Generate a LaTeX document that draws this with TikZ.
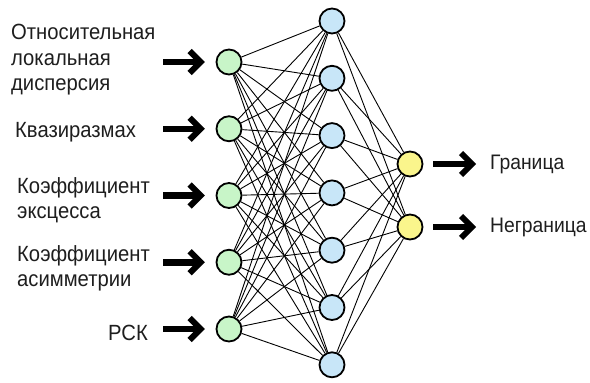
\documentclass[tikz,border=0pt]{standalone}
\usepackage{fontspec}
\setmainfont[FakeStretch=0.92]{Liberation Sans}
\definecolor{ingreen}{RGB}{200,245,200}
\definecolor{hidblue}{RGB}{200,230,248}
\definecolor{outyellow}{RGB}{250,245,140}
\definecolor{txt}{RGB}{30,30,30}
\begin{document}
\begin{tikzpicture}[x=1pt,y=-1pt,
  neuron/.style={circle,draw=black,line width=1.8pt,minimum size=25pt,inner sep=0pt},
  inn/.style={neuron,fill=ingreen},
  hid/.style={neuron,fill=hidblue},
  outn/.style={neuron,fill=outyellow},
  link/.style={line width=0.9pt},
  shaft/.style={line width=6.5pt},
  chevron/.style={line width=6pt,miter limit=10,line join=miter},
  lab/.style={font=\fontsize{22}{25.5}\selectfont,text=txt,inner sep=0pt,align=left},
  rlab/.style={lab,font=\fontsize{21}{25}\selectfont}]
\useasboundingbox (0,0) rectangle (590,383);
% input neurons
\foreach \i/\y in {1/62,2/128.75,3/195.5,4/262.25,5/329}
  \node[inn] (i\i) at (229,\y) {};
% hidden neurons
\foreach \j in {1,...,7}
  \node[hid] (h\j) at (332,{21+57.3*(\j-1)}) {};
% output neurons
\node[outn] (o1) at (410,164) {};
\node[outn] (o2) at (410,227) {};
% links
\foreach \i in {1,...,5}
  \foreach \j in {1,...,7}
    \draw[link] (i\i) -- (h\j);
\foreach \j in {1,...,7}
  \foreach \k in {1,2}
    \draw[link] (h\j) -- (o\k);
% input arrows
\foreach \i/\y in {1/62,2/128.75,3/195.5,4/262.25,5/329}{
  \coordinate (a\i) at (163,\y);
  \draw[shaft] (a\i) -- ([xshift=-17pt]i\i.west);
  \draw[chevron] ([shift={(-26,-11)}]i\i.west) -- ([xshift=-15pt]i\i.west) -- ([shift={(-26,11)}]i\i.west);
}
% output arrows
\foreach \k/\y in {1/164,2/227}{
  \coordinate (b\k) at (476,\y);
  \coordinate (s\k) at (433,\y);
  \draw[shaft] (s\k) -- ([xshift=-6pt]b\k);
  \draw[chevron] ([shift={(-15,-11)}]b\k) -- ([xshift=-4pt]b\k) -- ([shift={(-15,11)}]b\k);
}
% labels
\node[lab,anchor=north west] (l1) at (11,24) {Относительная\\локальная\\дисперсия};
\node[lab,anchor=base west] (l2) at (15,137) {Квазиразмах};
\node[lab,anchor=north west] (l3) at (17,177) {Коэффициент\\эксцесса};
\node[lab,anchor=north west] (l4) at (17,245) {Коэффициент\\асимметрии};
\node[lab,anchor=base east] (l5) at (148,340) {РСК};
\node[rlab,anchor=west] (r1) at (490,164) {Граница};
\node[rlab,anchor=west] (r2) at (490,227) {Неграница};
\end{tikzpicture}
\end{document}
